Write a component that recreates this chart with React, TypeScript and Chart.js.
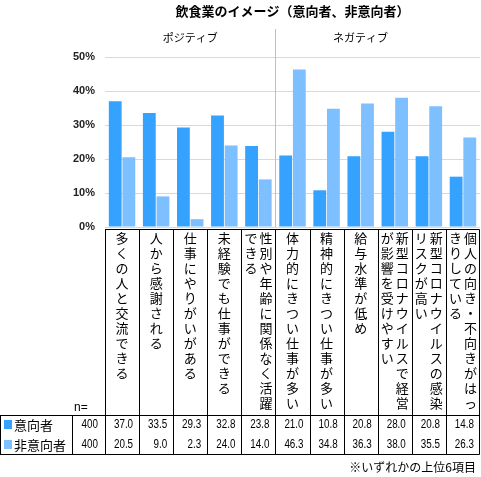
import React, { useEffect, useRef } from "react";
import { Chart, registerables } from "chart.js";

Chart.register(...registerables);

const TITLE = "飲食業のイメージ（意向者、非意向者）";
const GROUPS = ["ポジティブ", "ネガティブ"];
const POSITIVE_COUNT = 5;
const categories = [
  "多くの人と交流できる",
  "人から感謝される",
  "仕事にやりがいがある",
  "未経験でも仕事ができる",
  "性別や年齢に関係なく活躍できる",
  "体力的にきつい仕事が多い",
  "精神的にきつい仕事が多い",
  "給与水準が低め",
  "新型コロナウイルスで経営が影響を受けやすい",
  "新型コロナウイルスの感染リスクが高い",
  "個人の向き・不向きがはっきりしている",
];
const seriesNames = ["意向者", "非意向者"];
const sampleSizes = [400, 400];
const intentValues = [37.0, 33.5, 29.3, 32.8, 23.8, 21.0, 10.8, 20.8, 28.0, 20.8, 14.8];
const nonIntentValues = [20.5, 9.0, 2.3, 24.0, 14.0, 46.3, 34.8, 36.3, 38.0, 35.5, 26.3];
const seriesColors = ["#35a2ff", "#7dbfff"];
const FOOTNOTE = "※いずれかの上位6項目";

const JP = "'Noto Sans CJK JP', sans-serif";
const NUM = "'Liberation Sans', sans-serif";

function drawCondensed(ctx: CanvasRenderingContext2D, text: string, rightX: number, y: number) {
  ctx.save();
  ctx.translate(rightX, y);
  ctx.scale(0.82, 1);
  ctx.textAlign = "right";
  ctx.fillText(text, 0, 0);
  ctx.restore();
}

const tablePlugin = {
  id: "tablePlugin",
  afterDraw(chart: any) {
    const ctx = chart.ctx as CanvasRenderingContext2D;
    const x = chart.scales.x;
    const area = chart.chartArea;
    const n = categories.length;
    const colW = (area.right - area.left) / n;
    const edge = (i: number) => x.getPixelForValue(i) - colW / 2;
    const W = chart.width;
    ctx.save();

    // title
    ctx.fillStyle = "#000";
    ctx.textAlign = "center";
    ctx.textBaseline = "middle";
    ctx.font = `bold 13px ${JP}`;
    ctx.fillText(TITLE, (area.left + area.right) / 2, 11);

    // group labels
    ctx.font = `11px ${JP}`;
    const divX = Math.round(edge(POSITIVE_COUNT)) + 0.5;
    ctx.fillText(GROUPS[0], (area.left + divX) / 2, 38);
    ctx.fillText(GROUPS[1], divX + 85, 38);

    // divider
    ctx.strokeStyle = "#bfbfbf";
    ctx.lineWidth = 1;
    ctx.beginPath();
    ctx.moveTo(divX, 29);
    ctx.lineTo(divX, area.bottom);
    ctx.stroke();

    // table lines
    const tTop = area.bottom + 2.5;
    const rowTop = 415.5;
    const tBottom = 454.5;
    const right = Math.round(edge(n)) - 0.5;
    ctx.strokeStyle = "#000";
    ctx.beginPath();
    ctx.moveTo(area.left, tTop);
    ctx.lineTo(right, tTop);
    ctx.moveTo(0, rowTop);
    ctx.lineTo(right, rowTop);
    ctx.moveTo(0, tBottom);
    ctx.lineTo(right, tBottom);
    for (let i = 0; i <= n; i++) {
      const ex = i === n ? right : Math.round(edge(i)) + 0.5;
      ctx.moveTo(ex, tTop);
      ctx.lineTo(ex, tBottom);
    }
    ctx.moveTo(0.5, rowTop);
    ctx.lineTo(0.5, tBottom);
    ctx.moveTo(72.5, rowTop);
    ctx.lineTo(72.5, tBottom);
    ctx.stroke();

    // vertical category labels
    ctx.font = `13px ${JP}`;
    ctx.textAlign = "center";
    ctx.textBaseline = "middle";
    ctx.fillStyle = "#000";
    const perCol = 12;
    categories.forEach((label, i) => {
      const chars = Array.from(label);
      const cols: string[][] = [];
      for (let k = 0; k < chars.length; k += perCol) cols.push(chars.slice(k, k + perCol));
      const cx = x.getPixelForValue(i);
      const nc = cols.length;
      cols.forEach((col, c) => {
        const colX = cx + ((nc - 1) / 2 - c) * 15;
        col.forEach((ch, r) => {
          ctx.fillText(ch, colX, 238 + r * 15);
        });
      });
    });

    // n=
    ctx.font = `12px ${NUM}`;
    ctx.textAlign = "left";
    ctx.fillText("n=", 74, 408);

    // rows
    const rows = [intentValues, nonIntentValues];
    rows.forEach((vals, r) => {
      const y = 425 + r * 20;
      ctx.fillStyle = seriesColors[r];
      ctx.fillRect(4, y - 5, 8, 9);
      ctx.fillStyle = "#000";
      ctx.font = `13px ${JP}`;
      ctx.textAlign = "left";
      ctx.fillText(seriesNames[r], 14, y);
      ctx.font = `12px ${NUM}`;
      drawCondensed(ctx, String(sampleSizes[r]), 98, y);
      vals.forEach((v, i) => {
        drawCondensed(ctx, v.toFixed(1), edge(i + 1) - 6, y);
      });
    });

    // footnote
    ctx.font = `12px ${JP}`;
    ctx.textAlign = "right";
    ctx.fillText(FOOTNOTE, W - 5, 467);
    ctx.restore();
  },
};

export default function App() {
  const ref = useRef<HTMLCanvasElement>(null);
  useEffect(() => {
    if (!ref.current) return;
    const chart = new Chart(ref.current, {
      type: "bar",
      data: {
        labels: categories,
        datasets: [
          {
            label: seriesNames[0],
            data: intentValues,
            backgroundColor: seriesColors[0],
            categoryPercentage: 0.8,
            barPercentage: 0.94,
          },
          {
            label: seriesNames[1],
            data: nonIntentValues,
            backgroundColor: seriesColors[1],
            categoryPercentage: 0.8,
            barPercentage: 0.94,
          },
        ],
      },
      options: {
        responsive: false,
        animation: false,
        devicePixelRatio: 1,
        layout: { padding: { top: 57, bottom: 250, right: 1, left: 1 } },
        plugins: { legend: { display: false }, tooltip: { enabled: false }, title: { display: false } },
        scales: {
          x: { display: false },
          y: {
            min: 0,
            max: 50,
            border: { display: false },
            grid: { color: "#d9d9d9", drawTicks: false },
            ticks: {
              stepSize: 10,
              padding: 10,
              color: "#222",
              font: { family: "'Liberation Sans Narrow', 'Liberation Sans', sans-serif", size: 11, weight: "bold" },
              callback: (v: any) => v + "%",
            },
            afterFit: (scale: any) => {
              scale.width = 104;
              scale.paddingTop = 0;
              scale.paddingBottom = 0;
            },
          },
        },
      },
      plugins: [tablePlugin],
    });
    return () => chart.destroy();
  }, []);
  return (
    <div style={{ position: "fixed", left: 0, top: 0, width: 481, height: 477, background: "#fff" }}>
      <canvas ref={ref} width={481} height={477} />
    </div>
  );
}
